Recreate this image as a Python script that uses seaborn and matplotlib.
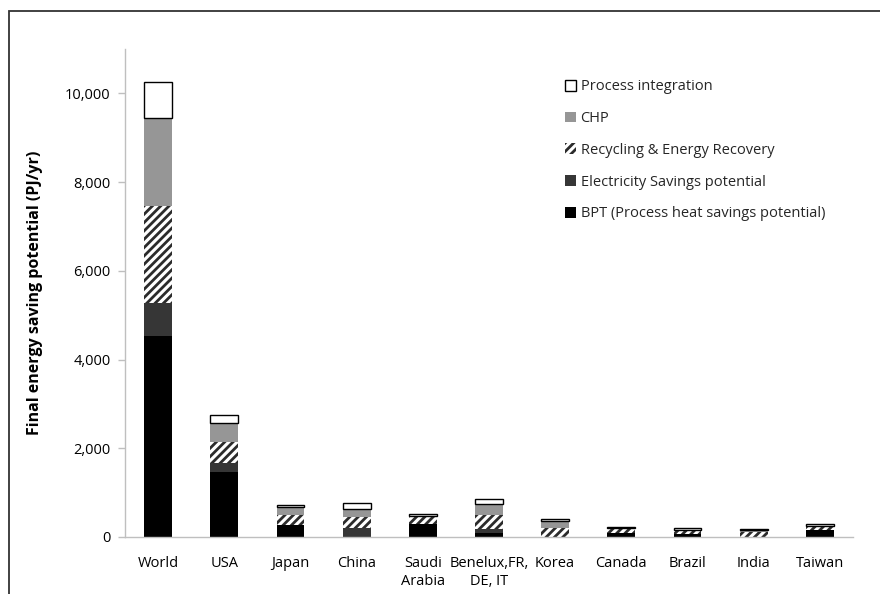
import numpy as np
import matplotlib
matplotlib.use("Agg")
import matplotlib.pyplot as plt
import seaborn as sns
from matplotlib.patches import Patch, Rectangle

# values (PJ/yr)
countries = ['World', 'USA', 'Japan', 'China', 'Saudi\nArabia', 'Benelux,FR,\nDE, IT',
             'Korea', 'Canada', 'Brazil', 'India', 'Taiwan']
bpt = [4520, 1460, 260, 0, 300, 97, 0, 80, 65, 0, 155]
electricity = [750, 205, 10, 210, 0, 83, 0, 10, 0, 0, 0]
recycling = [2200, 480, 225, 235, 170, 315, 210, 90, 100, 105, 100]
chp = [1970, 425, 174, 195, 0, 240, 160, 20, 0, 45, 0]
process_int = [810, 170, 58, 130, 55, 120, 30, 25, 30, 30, 30]

series_names = ['BPT (Process heat savings potential)', 'Electricity Savings potential',
                'Recycling & Energy Recovery', 'CHP', 'Process integration']
yticks = [0, 2000, 4000, 6000, 8000, 10000]

sns.set_theme(style='white')
plt.rcParams['font.family'] = ['Open Sans', 'DejaVu Sans']
plt.rcParams['hatch.linewidth'] = 2.0

fig = plt.figure(figsize=(8.8, 5.94), dpi=100)
ax = fig.add_axes([125 / 880, 1 - 537 / 594, 728 / 880, 488 / 594])

styles = [
    dict(color='black', edgecolor='black', linewidth=0),
    dict(color='#363636', edgecolor='#363636', linewidth=0),
    dict(color='white', edgecolor='#2b2b2b', linewidth=0, hatch='////'),
    dict(color='#969696', edgecolor='#969696', linewidth=0),
    dict(color='white', edgecolor='black', linewidth=1.0),
]

layers = [bpt, electricity, recycling, chp, process_int]
bottom = np.zeros(len(countries))
for vals, st in zip(layers, styles):
    sns.barplot(x=countries, y=vals, bottom=bottom, width=0.42, saturation=1,
                errorbar=None, ax=ax, **st)
    bottom = bottom + np.array(vals)

ax.set_ylim(0, 11000)
ax.set_yticks(yticks)
ax.set_yticklabels([f'{v:,}' for v in yticks])
ax.tick_params(axis='y', length=5, width=1, color='#bfbfbf', pad=5.5, labelsize=10.5,
               labelcolor='black', left=True)
ax.tick_params(axis='x', length=0, pad=14, labelsize=10.5, labelcolor='black')
for s in ['top', 'right']:
    ax.spines[s].set_visible(False)
for s in ['left', 'bottom']:
    ax.spines[s].set_color('#bfbfbf')
    ax.spines[s].set_linewidth(1)

ax.set_ylabel('Final energy saving potential (PJ/yr)', fontsize=11.5, fontweight='bold',
              color='black')
ax.yaxis.set_label_coords(-0.112, 0.5)

handles = [Patch(facecolor=st['color'], edgecolor=st['edgecolor'],
                 linewidth=st['linewidth'] if st['linewidth'] else 0,
                 hatch=st.get('hatch')) for st in styles]
leg = fig.legend(handles[::-1], series_names[::-1], loc='upper left',
                 bbox_to_anchor=(558 / 880, 1 - 72 / 594), frameon=False,
                 fontsize=10.5, handlelength=0.75, handleheight=0.75,
                 handletextpad=0.3, labelspacing=1.15, borderpad=0)

# outer chart frame (cut off at the right and bottom in the reference)
fig.patches.append(Rectangle((9 / 880, -0.2), 1.2, 1.2 - 11 / 594,
                             transform=fig.transFigure, fill=False,
                             edgecolor='#333333', linewidth=1.3))

fig.savefig('out.png', dpi=100)
